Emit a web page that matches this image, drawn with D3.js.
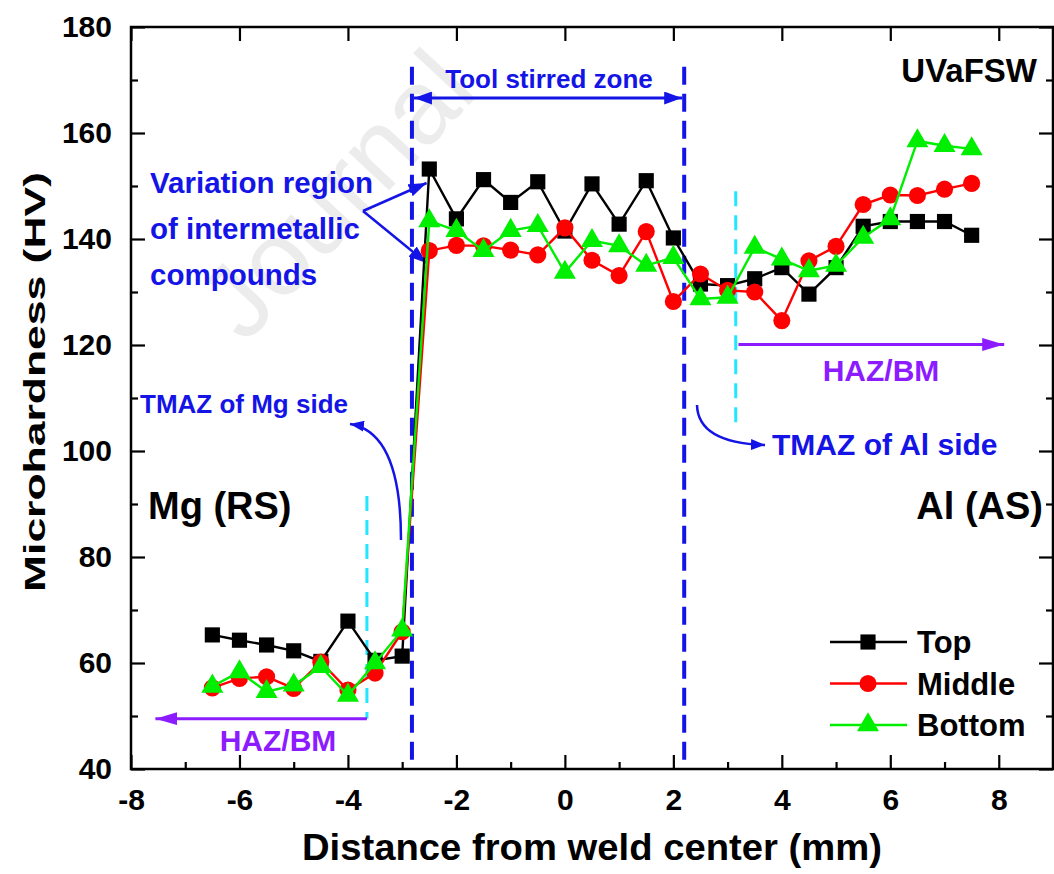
<!DOCTYPE html>
<html><head><meta charset="utf-8">
<script src="https://cdn.jsdelivr.net/npm/d3@7"></script>
<style>
html,body{margin:0;padding:0;background:#fff;}
text{font-family:"Liberation Sans",Arial,sans-serif;font-weight:bold;}
</style></head>
<body>
<svg id="chart" width="1054" height="874"></svg>
<script>
// ---------- data ----------
const distances = [-6.5,-6,-5.5,-5,-4.5,-4,-3.5,-3,-2.5,-2,-1.5,-1,-0.5,0,0.5,1,1.5,2,2.5,3,3.5,4,4.5,5,5.5,6,6.5,7,7.5];
const topHV    = [65.3,64.3,63.4,62.3,60.3,67.9,60.5,61.3,153.2,143.8,151.2,146.9,150.8,141.5,150.4,142.8,151.0,140.2,131.5,131.2,132.5,134.6,129.6,134.6,142.4,143.3,143.3,143.3,140.7];
const middleHV = [55.3,57.1,57.4,55.2,60.2,54.9,58.1,65.9,137.8,138.8,138.7,137.9,137.0,142.1,136.0,133.1,141.4,128.2,133.4,130.3,130.0,124.6,135.9,138.6,146.5,148.3,148.2,149.4,150.5];
const bottomHV = [55.6,58.3,54.6,55.8,59.3,53.9,60.0,66.2,143.4,141.6,137.8,141.6,142.5,133.7,139.7,138.7,135.0,136.5,128.7,129.0,138.4,136.2,134.0,135.0,140.3,143.8,158.5,157.6,157.0];
const seriesNames = ["Top","Middle","Bottom"];
const xMajorTicks = [-8,-6,-4,-2,0,2,4,6,8];
const xMinorTicks = [-7,-5,-3,-1,1,3,5,7,9];
const yMajorTicks = [40,60,80,100,120,140,160,180];
const yMinorTicks = [50,70,90,110,130,150,170];

// ---------- setup ----------
const svg = d3.select("#chart");
const L=131,R=1053,T=27,B=769;
const x = d3.scaleLinear().domain([-8,9]).range([L,R]);
const y = d3.scaleLinear().domain([40,180]).range([B,T]);

const colors = {Top:"#000000",Middle:"#ff0000",Bottom:"#00ee00"};
const symbols = {Top:d3.symbolSquare,Middle:d3.symbolCircle,Bottom:d3.symbolTriangle};
const symSize = {Top:230,Middle:230,Bottom:210};
const values = {Top:topHV,Middle:middleHV,Bottom:bottomHV};

const BLUE="#1414e6", PURPLE="#8c1cff", CYAN="#22e6ff";

// defs for arrowheads
const defs = svg.append("defs");
function mk(id,color,len,wid){
  defs.append("marker").attr("id",id).attr("viewBox",`0 0 ${len} ${wid}`)
    .attr("refX",len).attr("refY",wid/2).attr("markerWidth",len).attr("markerHeight",wid)
    .attr("markerUnits","userSpaceOnUse").attr("orient","auto-start-reverse")
    .append("path").attr("d",`M0,0L${len},${wid/2}L0,${wid}Z`).attr("fill",color);
}
mk("ab",BLUE,18,13);
mk("abs",BLUE,14,11);
mk("ap",PURPLE,22,13);

// watermark
svg.append("text").attr("x",0).attr("y",0)
  .attr("transform","translate(245,345) rotate(-47)")
  .attr("font-size",105).style("font-weight","normal").attr("fill","#ececec").text("Journal");

// ---------- axes (inward ticks) ----------
const fmt = d => String(d);
function styleAxis(g){ g.select(".domain").remove(); g.selectAll("line").attr("stroke","#000").attr("stroke-width",2.2); }
svg.append("g").attr("transform",`translate(0,${B})`)
  .call(d3.axisBottom(x).tickValues(xMajorTicks).tickFormat(fmt).tickSizeInner(-14).tickSizeOuter(0).tickPadding(20))
  .call(styleAxis).call(g=>g.selectAll("text").attr("font-size",30).attr("fill","#000"));
svg.append("g").attr("transform",`translate(0,${B})`)
  .call(d3.axisBottom(x).tickValues(xMinorTicks).tickSizeInner(-7).tickSizeOuter(0).tickFormat(""))
  .call(styleAxis);
svg.append("g").attr("transform",`translate(0,${T})`)
  .call(d3.axisTop(x).tickValues(xMajorTicks).tickSizeInner(-14).tickSizeOuter(0).tickFormat(""))
  .call(styleAxis);
svg.append("g").attr("transform",`translate(${L},0)`)
  .call(d3.axisLeft(y).tickValues(yMajorTicks).tickFormat(fmt).tickSizeInner(-14).tickSizeOuter(0).tickPadding(19))
  .call(styleAxis).call(g=>g.selectAll("text").attr("font-size",30).attr("fill","#000"));
svg.append("g").attr("transform",`translate(${L},0)`)
  .call(d3.axisLeft(y).tickValues(yMinorTicks).tickSizeInner(-7).tickSizeOuter(0).tickFormat(""))
  .call(styleAxis);
svg.append("g").attr("transform",`translate(${R},0)`)
  .call(d3.axisRight(y).tickValues(yMajorTicks).tickSizeInner(-14).tickSizeOuter(0).tickFormat(""))
  .call(styleAxis);
svg.append("g").attr("transform",`translate(${R},0)`)
  .call(d3.axisRight(y).tickValues(yMinorTicks).tickSizeInner(-7).tickSizeOuter(0).tickFormat(""))
  .call(styleAxis);

svg.append("rect").attr("x",L).attr("y",T).attr("width",R-L).attr("height",B-T)
  .attr("fill","none").attr("stroke","#000").attr("stroke-width",2.5);

// axis titles
svg.append("text").attr("x",592).attr("y",860).attr("text-anchor","middle")
  .attr("font-size",36).attr("textLength",580).attr("lengthAdjust","spacingAndGlyphs")
  .text("Distance from weld center (mm)");
svg.append("text").attr("transform","translate(45,382) rotate(-90)").attr("text-anchor","middle")
  .attr("font-size",30).attr("textLength",420).attr("lengthAdjust","spacingAndGlyphs")
  .text("Microhardness (HV)");

// ---------- zone annotations ----------
const dashBlue = [-2.82, 2.2];
dashBlue.forEach(v=>{
  svg.append("line").attr("x1",x(v)).attr("x2",x(v)).attr("y1",y(172.5)).attr("y2",y(41.5))
    .attr("stroke",BLUE).attr("stroke-width",4).attr("stroke-dasharray","18,9");
});
svg.append("line").attr("x1",x(-3.65)).attr("x2",x(-3.65)).attr("y1",y(91.5)).attr("y2",y(49.5))
  .attr("stroke",CYAN).attr("stroke-width",3).attr("stroke-dasharray","15,9");
svg.append("line").attr("x1",x(3.15)).attr("x2",x(3.15)).attr("y1",y(149)).attr("y2",y(104.5))
  .attr("stroke",CYAN).attr("stroke-width",3).attr("stroke-dasharray","15,9");

// tool stirred zone arrow
svg.append("line").attr("x1",x(-2.82)+2).attr("x2",x(2.2)-2).attr("y1",y(166.6)).attr("y2",y(166.6))
  .attr("stroke",BLUE).attr("stroke-width",3).attr("marker-start","url(#ab)").attr("marker-end","url(#ab)");
svg.append("text").attr("x",549).attr("y",88).attr("text-anchor","middle").attr("font-size",26).attr("fill",BLUE)
  .text("Tool stirred zone");

svg.append("text").attr("x",1037).attr("y",82).attr("text-anchor","end").attr("font-size",33).attr("fill","#000").text("UVaFSW");

// variation region
["Variation region","of intermetallic","compounds"].forEach((t,i)=>{
  svg.append("text").attr("x",150).attr("y",193+i*46).attr("font-size",29.5).attr("fill",BLUE).text(t);
});
[[x(-2.55),183],[x(-2.55),263]].forEach(p=>{
  svg.append("line").attr("x1",363).attr("y1",211).attr("x2",p[0]).attr("y2",p[1])
    .attr("stroke",BLUE).attr("stroke-width",2.5).attr("marker-end","url(#ab)");
});

// TMAZ Mg side
svg.append("text").attr("x",140).attr("y",413).attr("font-size",26).attr("fill",BLUE).text("TMAZ of Mg side");
svg.append("path").attr("d",`M401,540 Q401,432 350,424`).attr("fill","none")
  .attr("stroke",BLUE).attr("stroke-width",2.5).attr("marker-end","url(#abs)");

// TMAZ Al side
svg.append("text").attr("x",772).attr("y",455).attr("font-size",30).attr("fill",BLUE).text("TMAZ of Al side");
svg.append("path").attr("d",`M697,405 Q698,443 765,445`).attr("fill","none")
  .attr("stroke",BLUE).attr("stroke-width",2.5).attr("marker-end","url(#abs)");

// HAZ/BM arrows
svg.append("line").attr("x1",x(-3.65)).attr("x2",x(-7.55)).attr("y1",y(49.5)).attr("y2",y(49.5))
  .attr("stroke",PURPLE).attr("stroke-width",3).attr("marker-end","url(#ap)");
svg.append("text").attr("x",278).attr("y",751).attr("text-anchor","middle").attr("font-size",30).attr("fill",PURPLE).text("HAZ/BM");
svg.append("line").attr("x1",x(3.2)).attr("x2",x(8.1)).attr("y1",y(120.1)).attr("y2",y(120.1))
  .attr("stroke",PURPLE).attr("stroke-width",3).attr("marker-end","url(#ap)");
svg.append("text").attr("x",881).attr("y",381).attr("text-anchor","middle").attr("font-size",30).attr("fill",PURPLE).text("HAZ/BM");

svg.append("text").attr("x",148).attr("y",519).attr("font-size",38).attr("fill","#000").text("Mg (RS)");
svg.append("text").attr("x",1043).attr("y",519).attr("text-anchor","end").attr("font-size",38).attr("fill","#000").text("Al (AS)");

// ---------- series ----------
const line = d3.line().x(d=>x(d[0])).y(d=>y(d[1]));
seriesNames.forEach(name=>{
  const pts = distances.map((d,i)=>[d,values[name][i]]);
  const g = svg.append("g");
  g.append("path").attr("d",line(pts)).attr("fill","none").attr("stroke",colors[name]).attr("stroke-width",2.4);
  g.selectAll("path.m").data(pts).enter().append("path").attr("class","m")
    .attr("transform",d=>`translate(${x(d[0])},${y(d[1])})`)
    .attr("d",d3.symbol().type(symbols[name]).size(symSize[name]))
    .attr("fill",colors[name]);
});

// ---------- legend ----------
seriesNames.forEach((name,i)=>{
  const ly = 642 + i*41.5;
  svg.append("line").attr("x1",830).attr("x2",907).attr("y1",ly).attr("y2",ly).attr("stroke",colors[name]).attr("stroke-width",2.4);
  svg.append("path").attr("transform",`translate(868,${ly})`).attr("d",d3.symbol().type(symbols[name]).size(symSize[name])).attr("fill",colors[name]);
  svg.append("text").attr("x",917).attr("y",ly+11).attr("font-size",31).attr("fill","#000").text(name);
});
</script>
</body></html>
